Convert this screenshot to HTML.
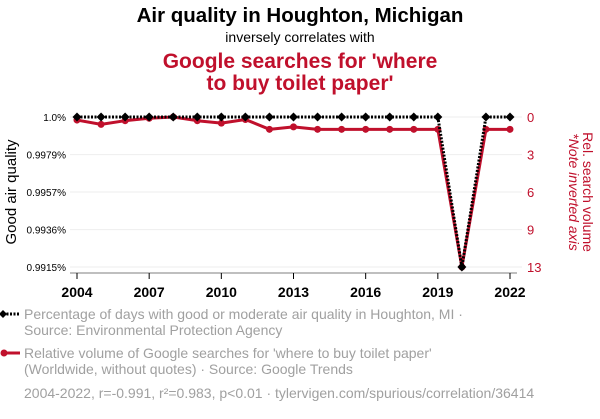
<!DOCTYPE html>
<html><head><meta charset="utf-8"><style>
body{margin:0;background:#fff;width:600px;height:414px;overflow:hidden;font-family:"Liberation Sans",sans-serif}
</style></head><body>
<svg id="c" width="600" height="414" xmlns="http://www.w3.org/2000/svg" font-family="Liberation Sans, sans-serif">
<text x="300" y="22" text-anchor="middle" font-size="20.5" font-weight="bold" fill="#000">Air quality in Houghton, Michigan</text>
<text x="300" y="42" text-anchor="middle" font-size="14" fill="#000">inversely correlates with</text>
<text x="300" y="68" text-anchor="middle" font-size="21" font-weight="bold" fill="#c0102c">Google searches for 'where</text>
<text x="300" y="90" text-anchor="middle" font-size="21" font-weight="bold" fill="#c0102c">to buy toilet paper'</text>
<g id="grid"></g><g id="axes"></g><g id="marks"></g>
<text transform="translate(16,192) rotate(-90)" text-anchor="middle" font-size="15" fill="#000">Good air quality</text>
<text transform="translate(583,192) rotate(90)" text-anchor="middle" font-size="14" fill="#c0102c">Rel. search volume</text>
<text transform="translate(569,192) rotate(90)" text-anchor="middle" font-size="14" font-style="italic" fill="#c0102c">*Note inverted axis</text>
<g>
<line x1="3" y1="314" x2="20" y2="314" stroke="#000" stroke-width="3" stroke-dasharray="2,1.5"/>
<path d="M3 310 L7 314 L3 318 L-1 314Z" fill="#000"/>
<text x="24" y="319" font-size="14" fill="#a0a0a0">Percentage of days with good or moderate air quality in Houghton, MI ·</text>
<text x="24" y="335" font-size="14" fill="#a0a0a0">Source: Environmental Protection Agency</text>
</g>
<g>
<line x1="3" y1="353" x2="20" y2="353" stroke="#c0102c" stroke-width="3"/>
<circle cx="4" cy="353" r="3.5" fill="#c0102c"/>
<text x="24" y="358" font-size="14" fill="#a0a0a0">Relative volume of Google searches for 'where to buy toilet paper'</text>
<text x="24" y="374" font-size="14" fill="#a0a0a0">(Worldwide, without quotes) · Source: Google Trends</text>
</g>
<text x="24" y="398" font-size="14" fill="#a0a0a0">2004-2022, r=-0.991, r²=0.983, p&lt;0.01 · tylervigen.com/spurious/correlation/36414</text>
</svg>
<script>
const years=[2004,2005,2006,2007,2008,2009,2010,2011,2012,2013,2014,2015,2016,2017,2018,2019,2020,2021,2022];
const airQuality=[1,1,1,1,1,1,1,1,1,1,1,1,1,1,1,1,0.9915,1,1];
const searches=[0.25,0.6,0.3,0.1,0,0.3,0.5,0.2,1,0.8,1,1,1,1,1,1,12.17,1,1];
const leftTicks=[1.0,0.99787,0.99575,0.99362,0.9915];
const leftLabels=["1.0%","0.9979%","0.9957%","0.9936%","0.9915%"];
const rightTicks=[0,3.04,6.09,9.13,12.17];
const rightLabels=["0","3","6","9","13"];
const xTicks=[2004,2007,2010,2013,2016,2019,2022];
const NS="http://www.w3.org/2000/svg";
const X0=77,X1=510,YT=117,YB=267;
const x=v=>X0+(v-2004)/(2022-2004)*(X1-X0);
const yL=v=>YT+(1-v)/(1-0.9915)*(YB-YT);
const yR=v=>YT+v/12.17*(YB-YT);
function mk(tag,attrs,parent){const e=document.createElementNS(NS,tag);for(const k in attrs)e.setAttribute(k,attrs[k]);document.getElementById(parent).appendChild(e);return e;}
leftTicks.forEach((t,i)=>{
 const g=mk('line',{x1:70,x2:522,y1:yL(t),y2:yL(t),stroke:'#eeeeee','stroke-width':1},'grid');
 
 
 const l=mk('text',{x:66,y:yL(t)+4,'text-anchor':'end','font-size':10,fill:'#000'},'axes');l.textContent=leftLabels[i];
 
 
});
rightTicks.forEach((t,i)=>{
 const l=mk('text',{x:527,y:yR(t)+5,'font-size':13,fill:'#c0102c'},'axes');l.textContent=rightLabels[i];
 
 
});
const ax=mk('line',{x1:70,x2:517,y1:273,y2:273,stroke:'#000','stroke-width':0.6},'axes');


xTicks.forEach(t=>{
 mk('line',{x1:x(t),x2:x(t),y1:273,y2:279,stroke:'#000'},'axes');
 const l=mk('text',{x:x(t),y:297,'text-anchor':'middle','font-size':14,'font-weight':'bold',fill:'#000'},'axes');l.textContent=t;
 
 
});
const rp=mk('polyline',{points:years.map((yr,i)=>x(yr)+','+yR(searches[i])).join(' '),fill:'none',stroke:'#c0102c','stroke-width':3,'stroke-linejoin':'round'},'marks');


years.forEach((yr,i)=>{const c=mk('circle',{cx:x(yr),cy:yR(searches[i]),r:3.5,fill:'#c0102c'},'marks');
 
 });
const bp=mk('polyline',{points:years.map((yr,i)=>x(yr)+','+yL(airQuality[i])).join(' '),fill:'none',stroke:'#000','stroke-width':3,'stroke-dasharray':'2,1.5'},'marks');


years.forEach((yr,i)=>{const cx=x(yr),cy=yL(airQuality[i]);
 const p=mk('path',{d:`M${cx} ${cy-4.5}L${cx+4.5} ${cy}L${cx} ${cy+4.5}L${cx-4.5} ${cy}Z`,fill:'#000'},'marks');
 
 });
</script>
</body></html>
